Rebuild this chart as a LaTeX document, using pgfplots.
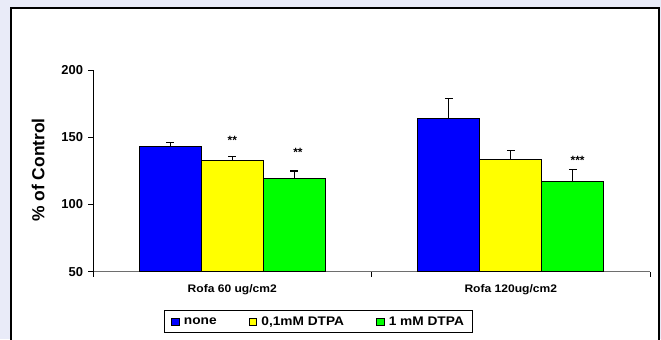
\documentclass[border=0pt]{standalone}
\usepackage{fontspec}
\setmainfont{Liberation Sans}
\newfontfamily\widefont[FakeStretch=1.1]{Liberation Sans}
\usepackage{pgfplots}
\pgfplotsset{compat=1.18}
\definecolor{bgl}{RGB}{233,235,248}
\definecolor{axgray}{RGB}{110,110,110}
\begin{document}
\begin{tikzpicture}[x=1bp,y=1bp]
\useasboundingbox (0,0) rectangle (661,339);
\fill[bgl] (0,0) rectangle (661,339);
\draw[black, line width=1.3bp, fill=white] (11,-10) rectangle (659,331);
\begin{axis}[
  at={(93bp,67.3bp)}, anchor=south west,
  scale only axis, width=557bp, height=201.7bp,
  xmin=0.5, xmax=2.5, ymin=50, ymax=200,
  axis x line*=bottom, axis y line*=left,
  x axis line style={draw=axgray, line width=1bp},
  y axis line style={draw=black, line width=0.8bp},
  /pgf/number format/assume math mode=true,
  ytick={50,100,150,200},
  yticklabel style={font=\bfseries\fontsize{13}{15}\selectfont, xshift=-1.5bp},
  tick style={draw=black, line width=0.8bp},
  major tick length=5bp,
  tick align=outside,
  xtick={0.5,1.5,2.5},
  xticklabels={},
  extra x ticks={1,2},
  extra x tick labels={Rofa 60 ug/cm2, Rofa 120ug/cm2},
  extra x tick style={major tick length=0pt,
     xticklabel style={font=\widefont\bfseries\fontsize{11}{13}\selectfont, yshift=-9.5bp}},
  ylabel={\% of Control},
  ylabel style={at={(axis description cs:-0.0987,0.504)}, anchor=center, font=\bfseries\fontsize{17.5}{19}\selectfont},
  ybar=0bp, bar width=62bp,
  error bars/y dir=plus, error bars/y explicit,
  error bars/error bar style={black, line width=1.1bp},
  error bars/error mark options={black, line width=1.1bp, mark size=3.8bp, rotate=90},
  legend columns=3,
  legend style={at={(axis description cs:0.405,-0.247)}, anchor=center,
    draw=black, line width=0.8bp, font=\widefont\bfseries\fontsize{12.5}{14}\selectfont,
    /tikz/every even column/.append style={column sep=30bp},
    inner xsep=7bp, inner ysep=4bp},
  legend image code/.code={\draw[#1, draw=black, line width=0.6bp] (0bp,-4.2bp) rectangle (7.6bp,3.4bp); \path (10bp,0);},
]
\addplot[fill={rgb,255:red,0;green,0;blue,255}, draw=black, line width=0.8bp]
  coordinates {(1,143) +- (0,3) (2,164.1) +- (0,14.9)};
\addlegendentry{none}
\addplot[fill={rgb,255:red,255;green,255;blue,0}, draw=black, line width=0.8bp]
  coordinates {(1,132.5) +- (0,3.5) (2,133.6) +- (0,6.7)};
\addlegendentry{0,1mM DTPA}
\addplot[fill={rgb,255:red,0;green,255;blue,0}, draw=black, line width=0.8bp]
  coordinates {(1,119.5) +- (0,5.4) (2,117.2) +- (0,9)};
\addlegendentry{1 mM DTPA}
\node[font=\bfseries\fontsize{12}{14}\selectfont] at (axis cs:1.0,148) {**};
\node[font=\bfseries\fontsize{12}{14}\selectfont] at (axis cs:1.236,138.5) {**};
\node[font=\bfseries\fontsize{12}{14}\selectfont] at (axis cs:2.24,132.5) {***};
\end{axis}
\end{tikzpicture}
\end{document}
